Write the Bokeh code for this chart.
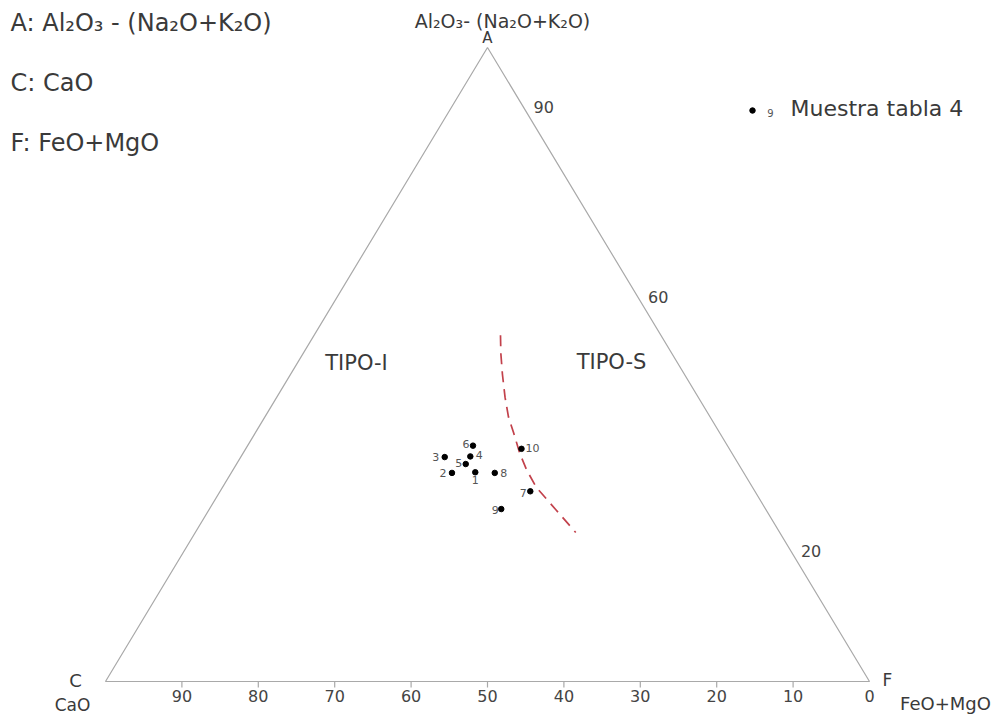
from bokeh.plotting import figure
from bokeh.models import ColumnDataSource, Range1d, Label
from bokeh.embed import file_html
from bokeh.resources import INLINE
from bokeh.core.properties import value

# ACF compositions (%) of the samples
sample_ids = ["1", "2", "3", "4", "5", "6", "7", "8", "9", "10"]
A_pct = [33.0, 32.9, 35.4, 35.5, 34.3, 37.2, 30.0, 32.9, 27.2, 36.7]
C_pct = [35.1, 38.2, 37.9, 34.5, 35.7, 33.3, 29.4, 32.6, 34.6, 27.2]
F_pct = [31.9, 28.9, 26.7, 30.0, 30.0, 29.5, 40.6, 34.5, 38.2, 36.1]

# boundary between I-type and S-type fields
bound_A = [54.6, 51.7, 48.5, 44.8, 41.7, 39.1, 35.9, 33.3, 30.6, 27.1, 23.5]
bound_C = [21.0, 22.4, 23.8, 25.3, 26.4, 27.0, 27.8, 28.2, 28.3, 27.5, 26.7]
bound_F = [24.4, 25.9, 27.7, 29.9, 31.9, 33.9, 36.3, 38.5, 41.1, 45.4, 49.8]

# scale values
base_ticks = [90, 80, 70, 60, 50, 40, 30, 20, 10, 0]   # CaO along the C-F side
right_ticks = [90, 60, 20]                              # A along the A-F side

W, H = 997, 717
FONT = "DejaVu Sans"
TXT = "#3a3a3a"
EDGE = "#a9a9a9"

# pixels per percent unit in each direction
SX, SY = 7.64, 6.34
X0, Y0 = 105, 36  # where C sits inside the canvas (from left / from bottom)


def tern(a, c, f):
    """Ternary (A, C, F) -> cartesian, C at the origin, F on the x axis."""
    xs, ys = [], []
    for ai, ci, fi in zip(a, c, f):
        s = ai + ci + fi
        ai, fi = 100.0 * ai / s, 100.0 * fi / s
        xs.append(fi + ai / 2.0)
        ys.append(ai)
    return xs, ys


p = figure(
    width=W, height=H,
    x_range=Range1d(-X0 / SX, (W - X0) / SX),
    y_range=Range1d(-Y0 / SY, (H - Y0) / SY),
    x_axis_type=None, y_axis_type=None,
    output_backend="svg", toolbar_location=None,
    min_border=0, outline_line_color=None,
)
p.grid.visible = False
p.background_fill_color = "white"
p.border_fill_color = "white"

# triangle frame
vx, vy = tern([100, 0, 0, 100], [0, 100, 0, 0], [0, 0, 100, 0])
p.line(vx, vy, line_color=EDGE, line_width=1.2)

# CaO scale on the base
bx, by = tern([0] * len(base_ticks), base_ticks, [100 - t for t in base_ticks])
tick_len = 6 / SY
p.segment(x0=bx[:-1], y0=by[:-1], x1=bx[:-1], y1=[y - tick_len for y in by[:-1]],
          line_color=EDGE, line_width=1.2)
p.text(x=bx, y=by, text=[str(t) for t in base_ticks], x_offset=0, y_offset=14,
       text_align="center", text_baseline="middle", text_font=value(FONT),
       text_font_size="16px", text_color="#444444")

# A scale on the right side
rx, ry = tern(right_ticks, [0] * len(right_ticks), [100 - t for t in right_ticks])
p.text(x=rx, y=ry, text=[str(t) for t in right_ticks], x_offset=18, y_offset=-4,
       text_align="center", text_baseline="middle", text_font=value(FONT),
       text_font_size="16px", text_color="#444444")

# boundary curve
cx, cy = tern(bound_A, bound_C, bound_F)
p.line(cx, cy, line_color="#c2414b", line_width=1.7, line_dash="11 7")

# samples
sx, sy = tern(A_pct, C_pct, F_pct)
lab_dx = [0, -9, -9, 9, -7, -7, -7, 9, -6, 11]
lab_dy = [8, 0, 0, -1, -1, -2, 2, 0, 1, -1]
src = ColumnDataSource(dict(x=sx, y=sy, id=sample_ids, dx=lab_dx, dy=lab_dy))
p.scatter("x", "y", source=src, size=5.5, color="black")
p.text("x", "y", text="id", source=src, x_offset="dx", y_offset="dy",
       text_align="center", text_baseline="middle", text_font=value(FONT),
       text_font_size="11px", text_color="#555555")

# vertex labels
ax, ay = tern([100], [0], [0])
cvx, cvy = tern([0], [100], [0])
fx, fy = tern([0], [0], [100])
vertex_text = [
    (ax, ay, "A", 0, -10, "15px"),
    (ax, ay, "Al\u2082O\u2083- (Na\u2082O+K\u2082O)", 15, -27, "19px"),
    (cvx, cvy, "C", -30, -1, "18px"),
    (cvx, cvy, "CaO", -33, 23, "17px"),
    (fx, fy, "F", 18, -2, "17px"),
    (fx, fy, "FeO+MgO", 76, 22, "18px"),
]
for x, y, t, dx, dy, fs in vertex_text:
    p.text(x=x, y=y, text=[t], x_offset=dx, y_offset=dy, text_align="center",
           text_baseline="middle", text_font=value(FONT), text_font_size=fs,
           text_color=TXT)

# field names
p.add_layout(Label(x=356, y=H - 362, x_units="screen", y_units="screen",
                   text="TIPO-I", text_align="center", text_baseline="middle",
                   text_font=FONT, text_font_size="21px", text_color=TXT))
p.add_layout(Label(x=611, y=H - 361, x_units="screen", y_units="screen",
                   text="TIPO-S", text_align="center", text_baseline="middle",
                   text_font=FONT, text_font_size="21px", text_color=TXT))

# component key
key = [
    ("A: Al\u2082O\u2083 - (Na\u2082O+K\u2082O)", 22),
    ("C: CaO", 82),
    ("F: FeO+MgO", 142),
]
for t, ytop in key:
    p.add_layout(Label(x=10, y=H - ytop, x_units="screen", y_units="screen",
                       text=t, text_align="left", text_baseline="middle",
                       text_font=FONT, text_font_size="24px", text_color=TXT))

# sample legend
p.scatter(x=[(752 - X0) / SX], y=[(H - 110 - Y0) / SY], size=5.5, color="black")
p.add_layout(Label(x=770, y=H - 112, x_units="screen", y_units="screen",
                   text="9", text_align="center", text_baseline="middle",
                   text_font=FONT, text_font_size="10px", text_color="#555555"))
p.add_layout(Label(x=790, y=H - 108, x_units="screen", y_units="screen",
                   text="Muestra tabla 4", text_align="left", text_baseline="middle",
                   text_font=FONT, text_font_size="22px", text_color=TXT))

open("out.html", "w").write(file_html(p, INLINE))
